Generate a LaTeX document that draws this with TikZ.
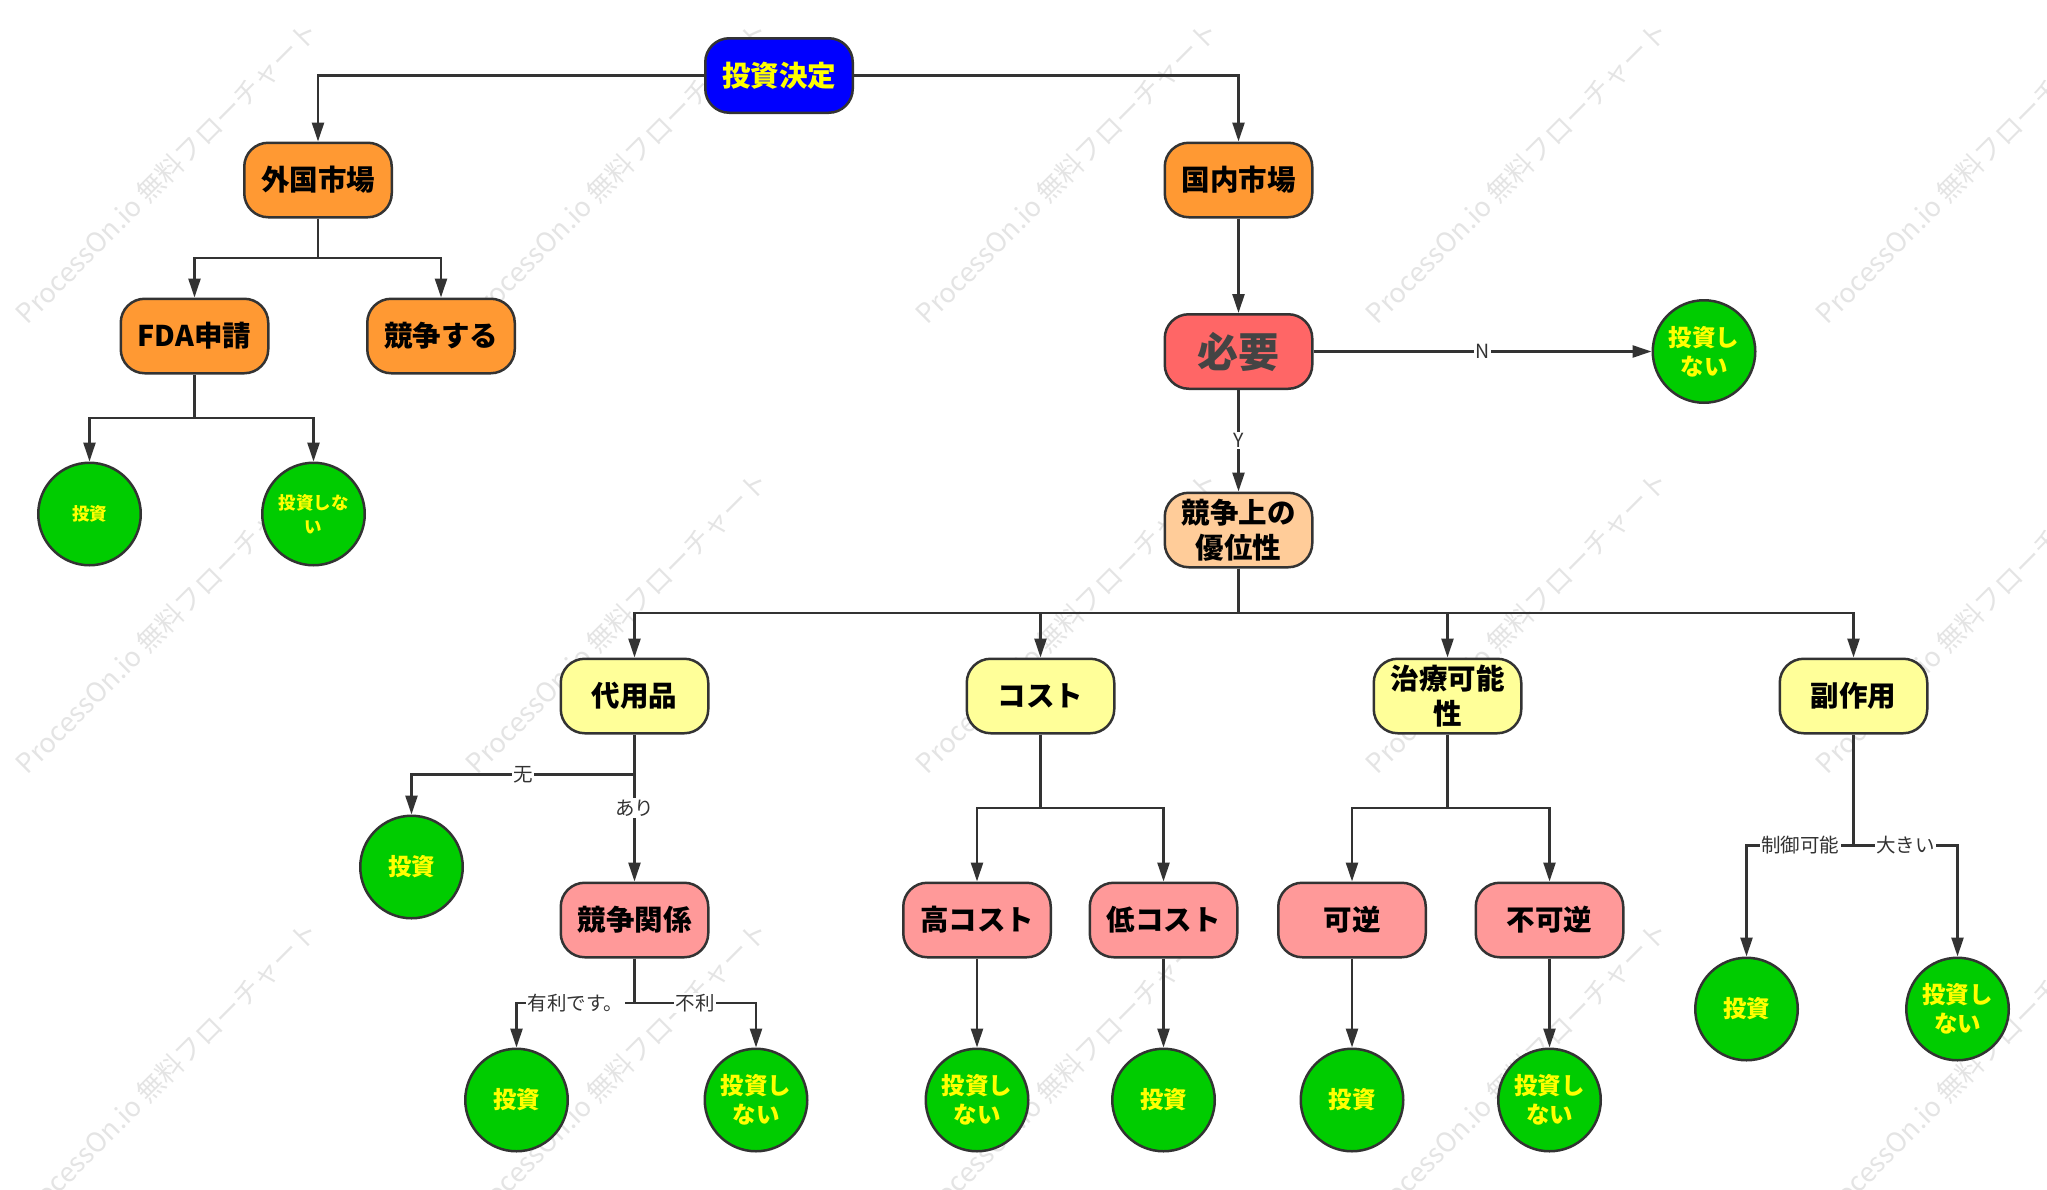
\documentclass[tikz,border=0pt]{standalone}
\usepackage{fontspec}
\newfontfamily\jp{Noto Sans CJK JP}
\usetikzlibrary{arrows.meta,calc}
\definecolor{strokec}{HTML}{333333}
\definecolor{cblue}{HTML}{0000FF}
\definecolor{corange}{HTML}{FF9933}
\definecolor{cred}{HTML}{FF6666}
\definecolor{cpeach}{HTML}{FFCC99}
\definecolor{clyellow}{HTML}{FFFF99}
\definecolor{cpink}{HTML}{FF9999}
\definecolor{cgreen}{HTML}{00CC00}
\definecolor{ctextyellow}{HTML}{FFFF00}
\definecolor{cneedtext}{HTML}{444444}
\definecolor{cwm}{HTML}{E4E4E4}
\newcommand\busline[2]{\draw[arr] (#1.south) |- ($(#1.south)!.5!(#2.north)$) -| (#2.north);}
\newcommand\buslabel[3]{\draw[arr] (#1.south) |- ($(#1.south)!.5!(#2.north)$) -| (#2.north);
  \node[elabel] at ($(#1.south)!.5!(#2.north)$) {#3};}
\begin{document}
\begin{tikzpicture}[x=1pt,y=-1pt,
  box/.style={draw=strokec, line width=2.5pt, rounded corners=24pt,
    minimum width=147.5pt, minimum height=74.5pt, align=center,
    text width=120pt, inner sep=0pt,
    font=\jp\bfseries\fontsize{28.5}{35}\selectfont},
  leaf/.style={circle, draw=strokec, line width=2.5pt, fill=cgreen,
    minimum size=102.5pt, inner sep=0pt, align=center, text width=84pt,
    text=ctextyellow, font=\jp\bfseries\fontsize{23.5}{29}\selectfont},
  smallleaf/.style={leaf, font=\jp\bfseries\fontsize{17.5}{24}\selectfont},
  arr/.style={draw=strokec, line width=2.5pt, -{Triangle[length=19pt,width=12pt]}},
  elabel/.style={fill=white, inner sep=1.5pt, text=strokec,
    font=\jp\fontsize{19.5}{21}\selectfont},
  wm/.style={rotate=45, text=cwm, font=\jp\fontsize{27}{27}\selectfont}
]
\useasboundingbox (0,0) rectangle (2047,1189);
\begin{scope}
\clip (0,0) rectangle (2047,1189);
\foreach \i in {0,...,4}
  \foreach \j in {0,1,2}
    \node[wm] at ({167+450*\i},{172+450*\j}) {ProcessOn.io 無料フローチャート};
\end{scope}

% nodes
\node[box, fill=cblue, text=ctextyellow] (top) at (779,75.5) {投資決定};
\node[box, fill=corange] (foreign) at (318,180) {外国市場};
\node[box, fill=corange] (domestic) at (1238.5,180) {国内市場};
\node[box, fill=corange] (fda) at (194.5,336) {FDA申請};
\node[box, fill=corange] (compete) at (441,336) {競争する};
\node[smallleaf] (c1) at (89.5,514) {投資};
\node[smallleaf] (c2) at (313.5,514) {投資しな\\い};
\node[box, fill=cred, text=cneedtext, font=\jp\bfseries\fontsize{41}{43}\selectfont] (need) at (1238.5,351.5) {必要};
\node[leaf] (c3) at (1704,351.5) {投資し\\ない};
\node[box, fill=cpeach] (adv) at (1238.5,530) {競争上の\\優位性};
\node[box, fill=clyellow] (sub) at (634.5,696) {代用品};
\node[box, fill=clyellow] (cost) at (1040.5,696) {コスト};
\node[box, fill=clyellow] (cure) at (1447.5,696) {治療可能\\性};
\node[box, fill=clyellow] (side) at (1853.5,696) {副作用};
\node[leaf] (c4) at (411.5,867) {投資};
\node[box, fill=cpink] (rel) at (634.5,920) {競争関係};
\node[box, fill=cpink] (high) at (977,920) {高コスト};
\node[box, fill=cpink] (low) at (1163.5,920) {低コスト};
\node[box, fill=cpink] (rev) at (1352,920) {可逆};
\node[box, fill=cpink] (irr) at (1549.5,920) {不可逆};
\node[leaf] (c5) at (516.5,1100) {投資};
\node[leaf] (c6) at (756,1100) {投資し\\ない};
\node[leaf] (c7) at (977,1100) {投資し\\ない};
\node[leaf] (c8) at (1163.5,1100) {投資};
\node[leaf] (c9) at (1352,1100) {投資};
\node[leaf] (c10) at (1549.5,1100) {投資し\\ない};
\node[leaf] (c11) at (1746.5,1009) {投資};
\node[leaf] (c12) at (1957.5,1009) {投資し\\ない};

% connectors
\draw[arr] (top.west) -| (foreign.north);
\draw[arr] (top.east) -| (domestic.north);
\busline{foreign}{fda}
\busline{foreign}{compete}
\busline{fda}{c1}
\busline{fda}{c2}
\draw[arr] (domestic) -- (need);
\draw[arr] (need.east) -- node[elabel] {N} (c3.west);
\draw[arr] (need) -- node[elabel] {Y} (adv);
\busline{adv}{sub}
\busline{adv}{cost}
\busline{adv}{cure}
\busline{adv}{side}
\buslabel{sub}{c4}{无}
\draw[arr] (sub) -- node[elabel] {あり} (rel);
\buslabel{rel}{c5}{有利です。}
\buslabel{rel}{c6}{不利}
\busline{cost}{high}
\busline{cost}{low}
\draw[arr] (high) -- (c7);
\draw[arr] (low) -- (c8);
\busline{cure}{rev}
\busline{cure}{irr}
\draw[arr] (rev) -- (c9);
\draw[arr] (irr) -- (c10);
\buslabel{side}{c11}{制御可能}
\buslabel{side}{c12}{大きい}
\end{tikzpicture}
\end{document}
